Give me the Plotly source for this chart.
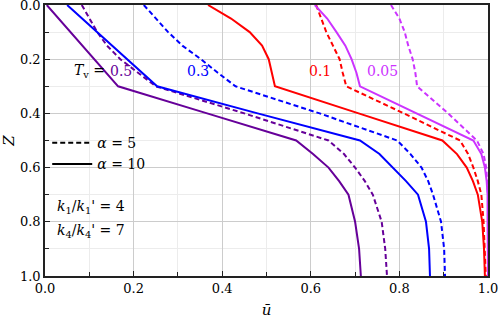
import plotly.graph_objects as go

# Depth grid (Z) shared by all curves
Z = [0, 0.05, 0.1, 0.15, 0.2, 0.25, 0.3, 0.4, 0.5, 0.55, 0.6, 0.65, 0.7, 0.8, 0.9, 1.0]

# Average degree of consolidation, alpha = 10 (solid)
u_tv05_a10 = [0.004, 0.031, 0.058, 0.085, 0.111, 0.138, 0.165, 0.366, 0.567, 0.605, 0.640, 0.664, 0.685, 0.700, 0.709, 0.713]
u_tv03_a10 = [0.050, 0.084, 0.118, 0.152, 0.185, 0.219, 0.253, 0.480, 0.711, 0.755, 0.785, 0.815, 0.842, 0.860, 0.867, 0.869]
u_tv01_a10 = [0.368, 0.420, 0.462, 0.490, 0.505, 0.512, 0.519, 0.708, 0.897, 0.930, 0.952, 0.966, 0.977, 0.987, 0.991, 0.993]
u_tv005_a10 = [0.609, 0.637, 0.658, 0.678, 0.692, 0.703, 0.711, 0.840, 0.967, 0.985, 0.993, 0.997, 0.999, 0.999, 1.000, 1.000]

# alpha = 5 (dashed)
u_tv05_a5 = [0.083, 0.101, 0.118, 0.140, 0.170, 0.210, 0.250, 0.450, 0.640, 0.675, 0.700, 0.722, 0.740, 0.760, 0.768, 0.772]
u_tv03_a5 = [0.223, 0.250, 0.278, 0.310, 0.352, 0.390, 0.430, 0.620, 0.795, 0.825, 0.850, 0.865, 0.876, 0.894, 0.901, 0.903]
u_tv01_a5 = [0.612, 0.623, 0.635, 0.650, 0.665, 0.672, 0.680, 0.810, 0.937, 0.955, 0.967, 0.977, 0.985, 0.990, 0.993, 0.995]
u_tv005_a5 = [0.781, 0.800, 0.812, 0.820, 0.830, 0.836, 0.840, 0.910, 0.975, 0.990, 0.996, 0.998, 1.000, 1.000, 1.000, 1.000]

Tv_labels = ["0.5", "0.3", "0.1", "0.05"]
colors = ["#660099", "#0000FF", "#FF0000", "#CC33FF"]
solid_series = [u_tv05_a10, u_tv03_a10, u_tv01_a10, u_tv005_a10]
dashed_series = [u_tv05_a5, u_tv03_a5, u_tv01_a5, u_tv005_a5]

FONT = "DejaVu Serif"

fig = go.Figure()
for xs, c in zip(dashed_series, colors):
    fig.add_trace(go.Scatter(x=xs, y=Z, mode="lines", showlegend=False,
                             line=dict(color=c, width=2, dash="5px,3px")))
for xs, c in zip(solid_series, colors):
    fig.add_trace(go.Scatter(x=xs, y=Z, mode="lines", showlegend=False,
                             line=dict(color=c, width=2)))

# legend entries
fig.add_trace(go.Scatter(x=[None], y=[None], mode="lines", name="<i>α</i> = 5",
                         line=dict(color="black", width=2, dash="5px,3px")))
fig.add_trace(go.Scatter(x=[None], y=[None], mode="lines", name="<i>α</i> = 10",
                         line=dict(color="black", width=2)))

# Tv labels
fig.add_annotation(x=0.14, y=0.245, text="<i>T</i><sub>v</sub> =", showarrow=False,
                   font=dict(family=FONT, size=14, color="black"), xanchor="right")
label_x = [0.171, 0.345, 0.62, 0.761]
for lx, t, c in zip(label_x, Tv_labels, colors):
    fig.add_annotation(x=lx, y=0.245, text=t, showarrow=False,
                       font=dict(family=FONT, size=14, color=c), xanchor="center")

fig.add_annotation(x=0.023, y=0.745, text="<i>k</i><sub>1</sub>/<i>k</i><sub>1</sub>' = 4",
                   showarrow=False, xanchor="left", font=dict(family=FONT, size=14, color="black"))
fig.add_annotation(x=0.023, y=0.835, text="<i>k</i><sub>4</sub>/<i>k</i><sub>4</sub>' = 7",
                   showarrow=False, xanchor="left", font=dict(family=FONT, size=14, color="black"))

axis_common = dict(
    showline=True, linecolor="#222", linewidth=1.5, mirror=True,
    ticks="inside", ticklen=5, tickcolor="#222", tickwidth=1,
    showgrid=True, gridcolor="#cccccc", gridwidth=1,
    tickformat=".1f", dtick=0.2, tick0=0, zeroline=False,
    ticklabeloverflow="allow", automargin=False,
    tickfont=dict(family=FONT, size=13, color="black"),
    minor=dict(dtick=0.1, showgrid=True, gridcolor="#ececec", ticks="inside",
               ticklen=4, tickcolor="#222"),
)

fig.update_xaxes(range=[0, 1], title=dict(text="<i>ū</i>", font=dict(family=FONT, size=15), standoff=13),
                 **axis_common)
fig.update_yaxes(range=[1, 0], title=dict(text="<i>Z</i>", font=dict(family=FONT, size=15), standoff=4),
                 **axis_common)

fig.update_layout(
    width=498, height=319,
    margin=dict(l=45, r=10, t=5, b=43),
    paper_bgcolor="white", plot_bgcolor="white",
    font=dict(family=FONT, color="black"),
    legend=dict(x=0.005, y=0.549, xanchor="left", yanchor="top", bgcolor="rgba(0,0,0,0)",
                font=dict(family=FONT, size=14), itemwidth=40, tracegroupgap=0),
)

fig.write_html("out.html", config={"displayModeBar": False},
               post_script="document.body.style.margin='0';document.body.style.padding='0';document.body.style.overflow='hidden';")
